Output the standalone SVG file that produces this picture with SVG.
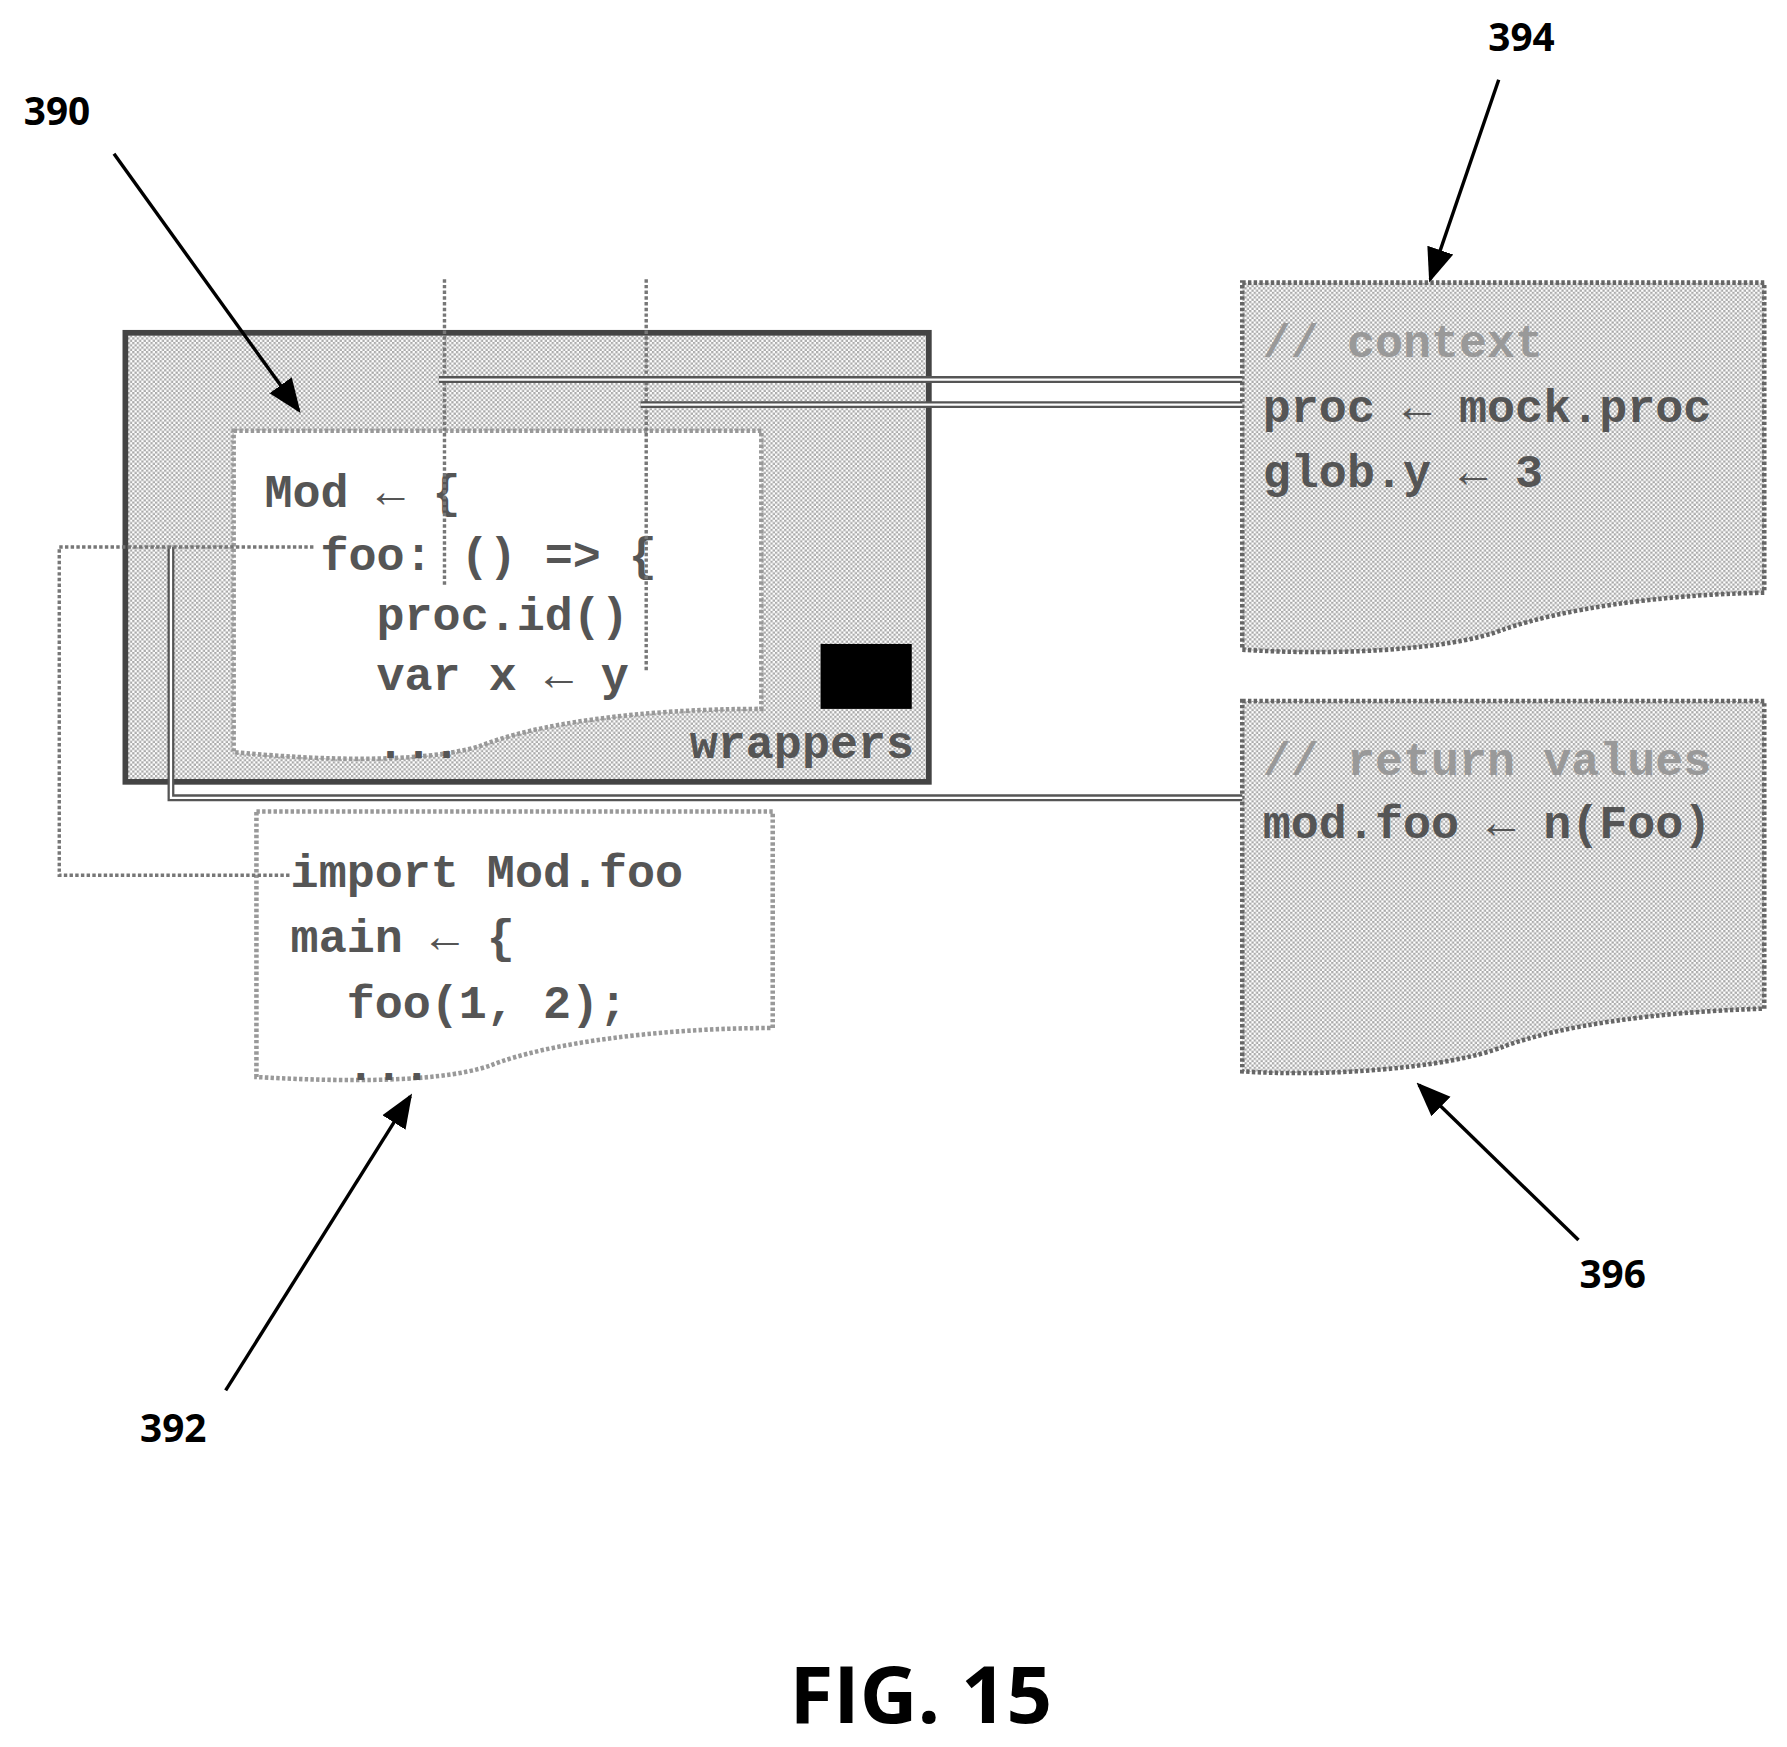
<svg xmlns="http://www.w3.org/2000/svg" width="1787" height="1747" viewBox="0 0 1787 1747">
<defs>
<pattern id="dots" width="4" height="4" patternUnits="userSpaceOnUse"><rect width="4" height="4" fill="#fff"/><rect width="2" height="2" fill="#aaa"/><rect x="2" y="2" width="2" height="2" fill="#aaa"/></pattern>
<marker id="ah" markerWidth="10" markerHeight="10" refX="9" refY="5" orient="auto" markerUnits="strokeWidth"><path d="M0,1 L10,5 L0,9 z" fill="#000"/></marker>
</defs>
<style>
.code{font-family:"Liberation Mono",monospace;font-size:41px;font-weight:bold;fill:#555}
.lbl{font-family:"Open Sans","Liberation Sans",sans-serif;font-size:34px;font-weight:bold;fill:#000}
.lead{stroke:#000;stroke-width:3;fill:none;marker-end:url(#ah)}
.dot{stroke:#777;stroke-width:3;fill:none;stroke-dasharray:3 2}
.dbl{stroke:#555;stroke-width:6;fill:none}
.dblin{stroke:#fff;stroke-width:2;fill:none}
</style>
<rect width="1787" height="1747" fill="#fff"/>
<g transform="scale(1.1397)">
<g id="n390">
<rect x="110" y="292" width="705" height="394" fill="url(#dots)" stroke="#444" stroke-width="5"/>
<path d="M205,378 H668 V622 C560,622 470,635 420,655 C360,672 260,665 205,660 Z" fill="#fff" stroke="#999" stroke-width="4" stroke-dasharray="3 2"/>
<rect x="720" y="565" width="80" height="57" fill="#000"/>
<text class="code" x="232" y="445" xml:space="preserve">Mod ← {</text>
<text class="code" x="232" y="500" xml:space="preserve">  foo: () =&gt; {</text>
<text class="code" x="232" y="553" xml:space="preserve">    proc.id()</text>
<text class="code" x="232" y="605" xml:space="preserve">    var x ← y</text>
<text class="code" x="232" y="665" xml:space="preserve">    ...</text>
<text class="code" x="802" y="665" text-anchor="end">wrappers</text>
</g>
<g id="n392">
<path d="M225,712 H678 V902 C580,902 480,915 430,935 C380,952 280,948 225,945 Z" fill="#fff" stroke="#999" stroke-width="4" stroke-dasharray="3 2"/>
<text class="code" x="255" y="778" xml:space="preserve">import Mod.foo</text>
<text class="code" x="255" y="835" xml:space="preserve">main ← {</text>
<text class="code" x="255" y="893" xml:space="preserve">  foo(1, 2);</text>
<text class="code" x="255" y="948" xml:space="preserve">  ...</text>
</g>
<g id="n394">
<path d="M1090,248 H1548 V520 C1450,522 1370,535 1320,552 C1270,572 1160,575 1090,570 Z" fill="url(#dots)" stroke="#666" stroke-width="4" stroke-dasharray="3 2"/>
<text class="code" x="1108" y="313" style="fill:#999">// context</text>
<text class="code" x="1108" y="370" xml:space="preserve">proc ← mock.proc</text>
<text class="code" x="1108" y="427" xml:space="preserve">glob.y ← 3</text>
</g>
<g id="n396">
<path d="M1090,615 H1548 V885 C1450,888 1370,900 1320,918 C1270,938 1160,945 1090,940 Z" fill="url(#dots)" stroke="#666" stroke-width="4" stroke-dasharray="3 2"/>
<text class="code" x="1108" y="680" style="fill:#999">// return values</text>
<text class="code" x="1108" y="735" xml:space="preserve">mod.foo ← n(Foo)</text>
</g>
<g id="connectors">
<path class="dot" d="M390,245 V515"/>
<path class="dot" d="M567,245 V590"/>
<path class="dbl" d="M385,333 H1090"/><path class="dblin" d="M385,333 H1090"/>
<path class="dbl" d="M562,355 H1090"/><path class="dblin" d="M562,355 H1090"/>
<path class="dbl" d="M150,480 V700 H1090"/><path class="dblin" d="M150,480 V700 H1090"/>
<path class="dot" d="M275,480 H52 V768 H255"/>
<path class="lead" d="M100,135 L262,360"/>
<path class="lead" d="M1315,70 L1255,245"/>
<path class="lead" d="M198,1220 L360,962"/>
<path class="lead" d="M1385,1088 L1245,952"/>
</g>
<g id="labels">
<text class="lbl" x="50" y="110" text-anchor="middle">390</text>
<text class="lbl" x="1335" y="45" text-anchor="middle">394</text>
<text class="lbl" x="152" y="1265" text-anchor="middle">392</text>
<text class="lbl" x="1415" y="1130" text-anchor="middle">396</text>
<text class="lbl" x="808" y="1512" text-anchor="middle" style="font-size:70px">FIG. 15</text>
</g>
</g>
</svg>
